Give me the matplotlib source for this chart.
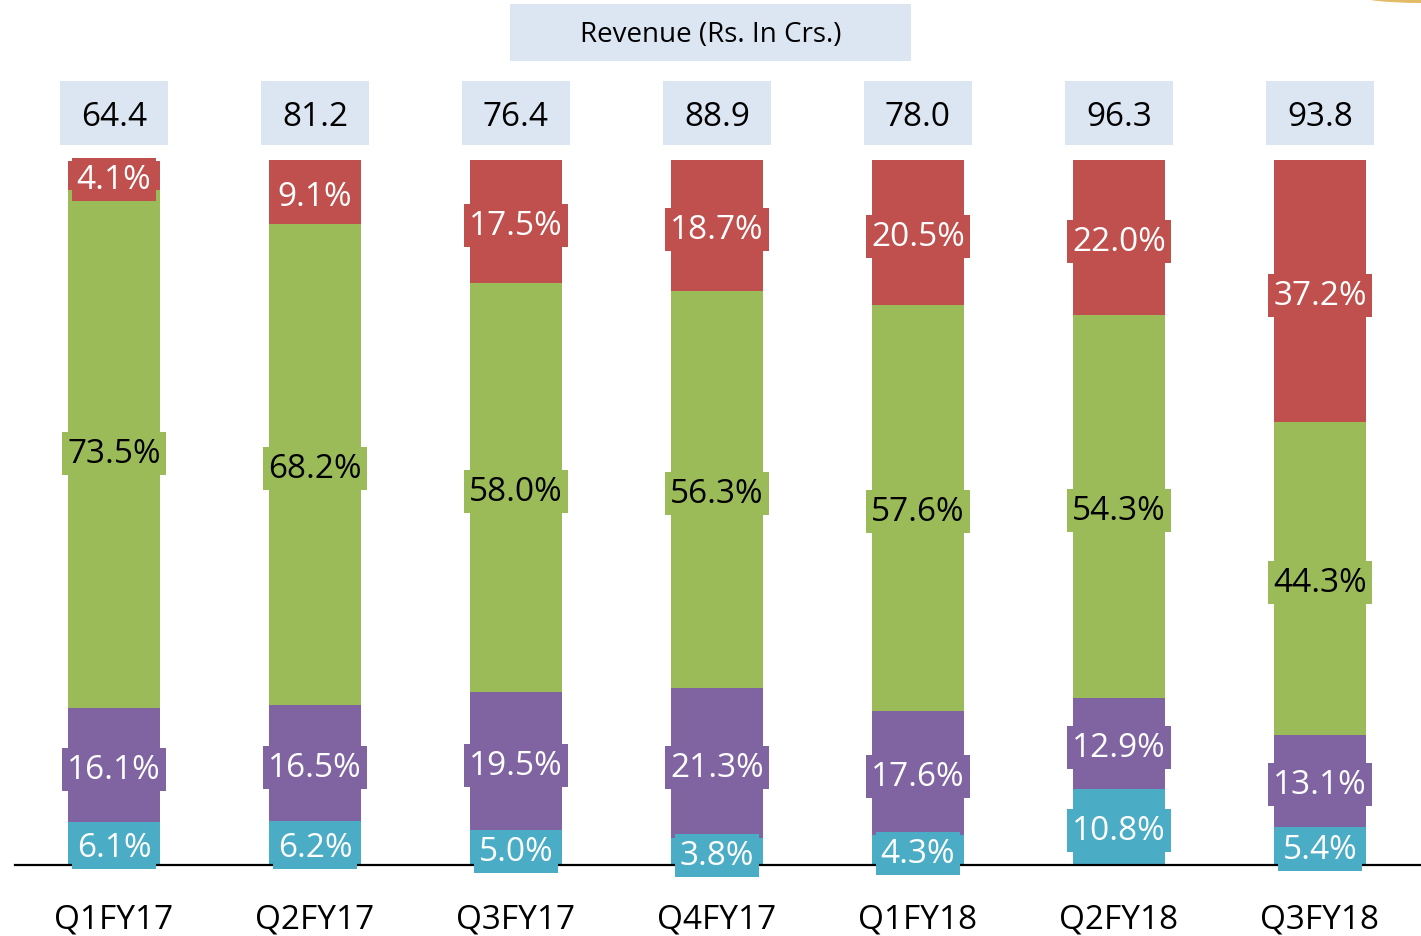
import matplotlib
matplotlib.use("Agg")
import matplotlib.pyplot as plt
import matplotlib.transforms as mtransforms
from matplotlib.patches import Rectangle, Ellipse

plt.rcParams['font.family'] = ['Open Sans', 'DejaVu Sans']

quarters = ["Q1FY17", "Q2FY17", "Q3FY17", "Q4FY17", "Q1FY18", "Q2FY18", "Q3FY18"]
revenue = ["64.4", "81.2", "76.4", "88.9", "78.0", "96.3", "93.8"]
# shares, stacked bottom to top
seg_cyan = [6.1, 6.2, 5.0, 3.8, 4.3, 10.8, 5.4]
seg_purple = [16.1, 16.5, 19.5, 21.3, 17.6, 12.9, 13.1]
seg_green = [73.5, 68.2, 58.0, 56.3, 57.6, 54.3, 44.3]
seg_red = [4.1, 9.1, 17.5, 18.7, 20.5, 22.0, 37.2]

series = [
    (seg_cyan, "#4BACC6", "white"),
    (seg_purple, "#8064A2", "white"),
    (seg_green, "#9BBB59", "black"),
    (seg_red, "#C0504D", "white"),
]

fig = plt.figure(figsize=(14.21, 9.37), dpi=100)
ax = fig.add_axes([15 / 1421, 71 / 937, 1406 / 1421, 705 / 937])

x = list(range(len(quarters)))
bottoms = [0.0] * len(quarters)
for vals, col, tcol in series:
    ax.bar(x, vals, width=0.453, bottom=bottoms, color=col, linewidth=0, zorder=2)
    for i, v in enumerate(vals):
        ax.text(i, bottoms[i] + v / 2, f"{v:.1f}%", ha="center", va="center_baseline",
                fontsize=24, color=tcol, zorder=4,
                bbox=dict(boxstyle="square,pad=0.15", fc=col, ec="none"))
    bottoms = [b + v for b, v in zip(bottoms, vals)]

ax.set_xlim(-0.4925, 6.5025)
ax.set_ylim(0, 100)
for s in ["top", "right", "left"]:
    ax.spines[s].set_visible(False)
ax.spines["bottom"].set_linewidth(1.6)
ax.spines["bottom"].set_zorder(3)
ax.set_yticks([])
ax.set_xticks(x)
ax.set_xticklabels(quarters, fontsize=24)
ax.tick_params(axis="x", length=0, pad=27)

# revenue boxes above each bar
trans = mtransforms.blended_transform_factory(ax.transData, ax.transAxes)
bw = 0.537
for i, r in enumerate(revenue):
    ax.add_patch(Rectangle((i - bw / 2, 1.021), bw, 0.091, transform=trans,
                           fc="#DCE6F2", ec="none", clip_on=False))
    ax.text(i, 1.062, r, transform=trans, ha="center", va="center",
            fontsize=24, color="black")

# title box
fig.patches.append(Rectangle((510 / 1421, 875 / 937), 401 / 1421, 57 / 937,
                             transform=fig.transFigure, fc="#DCE6F2", ec="none"))
fig.text(710.5 / 1421, 901.5 / 937, "Revenue (Rs. In Crs.)", ha="center", va="center",
         fontsize=20, color="black")

# gold swoosh in corner
fig.patches.append(Ellipse((1421 / 1421, 941 / 937), 130 / 1421, 16 / 937,
                           transform=fig.transFigure, fc="#D9A534", ec="none", alpha=0.75))

fig.savefig("out.png", dpi=100)
